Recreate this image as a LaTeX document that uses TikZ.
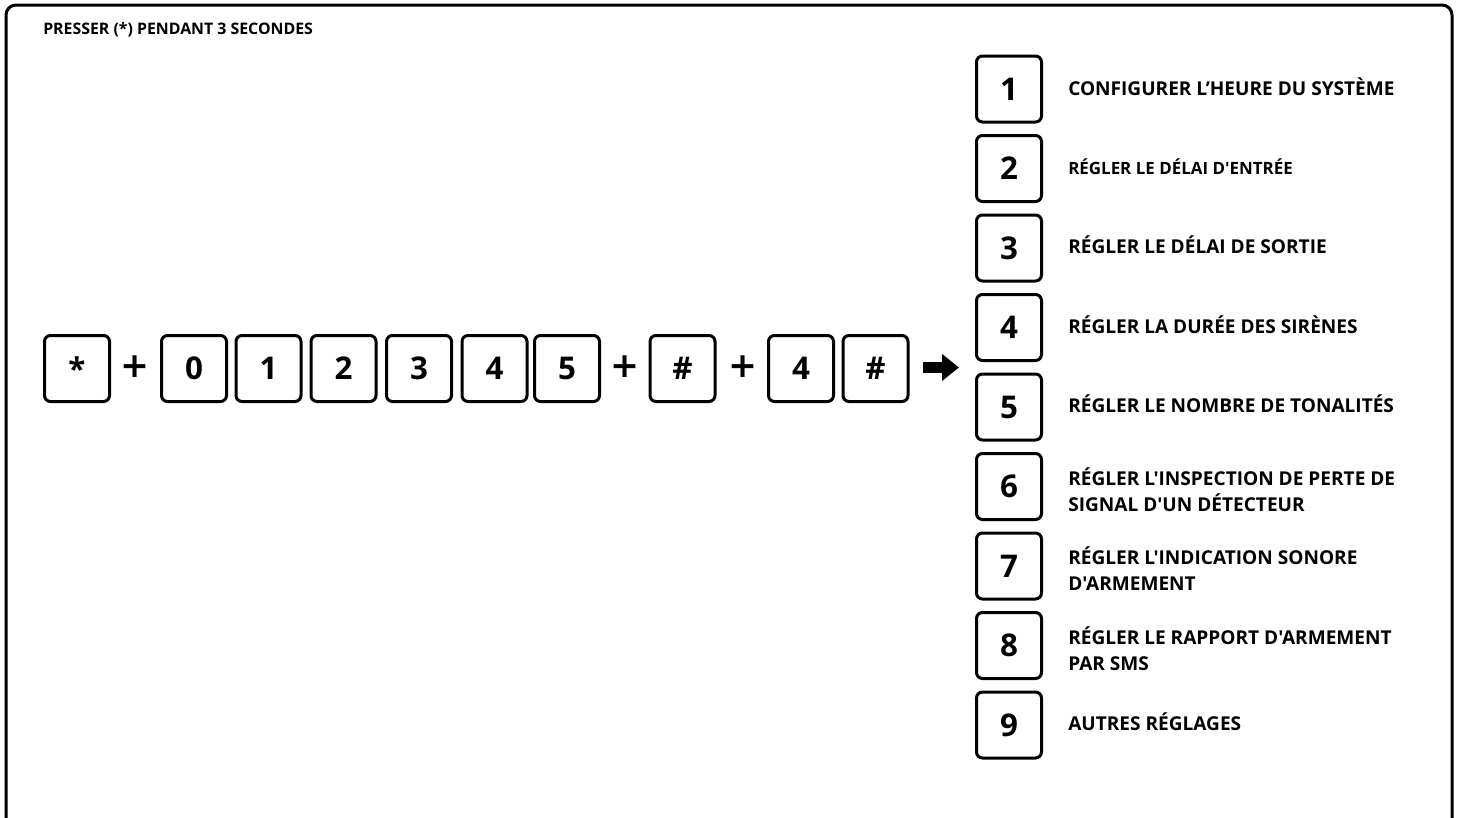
\documentclass[tikz,border=0pt]{standalone}
\usepackage{fontspec}
\setmainfont{Open Sans}[Ligatures=TeXOff]
\newfontfamily\plusfont{DejaVu Sans}
\usetikzlibrary{arrows.meta}
\begin{document}
\begin{tikzpicture}[x=0.75pt,y=-0.75pt,
  key/.style={draw, line width=2.25pt, rounded corners=4.5pt, minimum width=48.75pt, minimum height=49.5pt, inner sep=0pt, font=\fontsize{23.5}{26}\selectfont\bfseries},
  plussign/.style={inner sep=0pt, font=\fontsize{26}{26}\plusfont\bfseries},
  lbl/.style={anchor=base west, inner sep=0pt, align=left, font=\fontsize{14.3}{19.5}\selectfont\bfseries},
  lblsmall/.style={lbl, font=\fontsize{12.7}{19.5}\selectfont\bfseries},
  bigarrow/.style={line width=8.25pt, -{Triangle[length=12.75pt, width=19.5pt]}},
]
\useasboundingbox (0,0) rectangle (1461,818);
\fill[white] (0,0) rectangle (1461,818);
\draw[line width=2.25pt, rounded corners=7.5pt] (6,818) -- (6,5) -- (1452,5) -- (1452,818);

\node[anchor=base west, inner sep=0pt, font=\fontsize{11.9}{14}\selectfont\bfseries] (title) at (43,34) {PRESSER (*) PENDANT 3 SECONDES};

% key sequence
\node[key] (ks) at (77,368.5) {\raisebox{-0.23em}{*}};
\node[plussign] (p1) at (135,367) {+};
\node[key] (k0) at (194,368.5) {0};
\node[key] (k1) at (268.5,368.5) {1};
\node[key] (k2) at (343.5,368.5) {2};
\node[key] (k3) at (419,368.5) {3};
\node[key] (k4) at (494.5,368.5) {4};
\node[key] (k5) at (567,368.5) {5};
\node[plussign] (p2) at (625,367) {+};
\node[key] (kh1) at (682.5,368.5) {\#};
\node[plussign] (p3) at (743,367) {+};
\node[key] (k4b) at (801,368.5) {4};
\node[key] (kh2) at (875.5,368.5) {\#};

\coordinate (as) at (923,367.5);
\coordinate (ae) at (959,367.5);
\draw[bigarrow] (as) -- (ae);

% menu column
\node[key] (m1) at (1009,89) {1};
\node[key] (m2) at (1009,168.5) {2};
\node[key] (m3) at (1009,248) {3};
\node[key] (m4) at (1009,327.5) {4};
\node[key] (m5) at (1009,407) {5};
\node[key] (m6) at (1009,486.5) {6};
\node[key] (m7) at (1009,566) {7};
\node[key] (m8) at (1009,645.5) {8};
\node[key] (m9) at (1009,725) {9};

\node[lbl] (t1) at (1068,95) {CONFIGURER L’HEURE DU SYSTÈME};
\node[lblsmall] (t2) at (1068,174) {RÉGLER LE DÉLAI D'ENTRÉE};
\node[lbl] (t3) at (1068,253.5) {RÉGLER LE DÉLAI DE SORTIE};
\node[lbl] (t4) at (1068,333) {RÉGLER LA DURÉE DES SIRÈNES};
\node[lbl] (t5) at (1068,412.5) {RÉGLER LE NOMBRE DE TONALITÉS};
\node[lbl] (t6) at (1068,511) {RÉGLER L'INSPECTION DE PERTE DE\\SIGNAL D'UN DÉTECTEUR};
\node[lbl] (t7) at (1068,590) {RÉGLER L'INDICATION SONORE\\D'ARMEMENT};
\node[lbl] (t8) at (1068,670) {RÉGLER LE RAPPORT D'ARMEMENT\\PAR SMS};
\node[lbl] (t9) at (1068,730.5) {AUTRES RÉGLAGES};
\end{tikzpicture}
\end{document}
